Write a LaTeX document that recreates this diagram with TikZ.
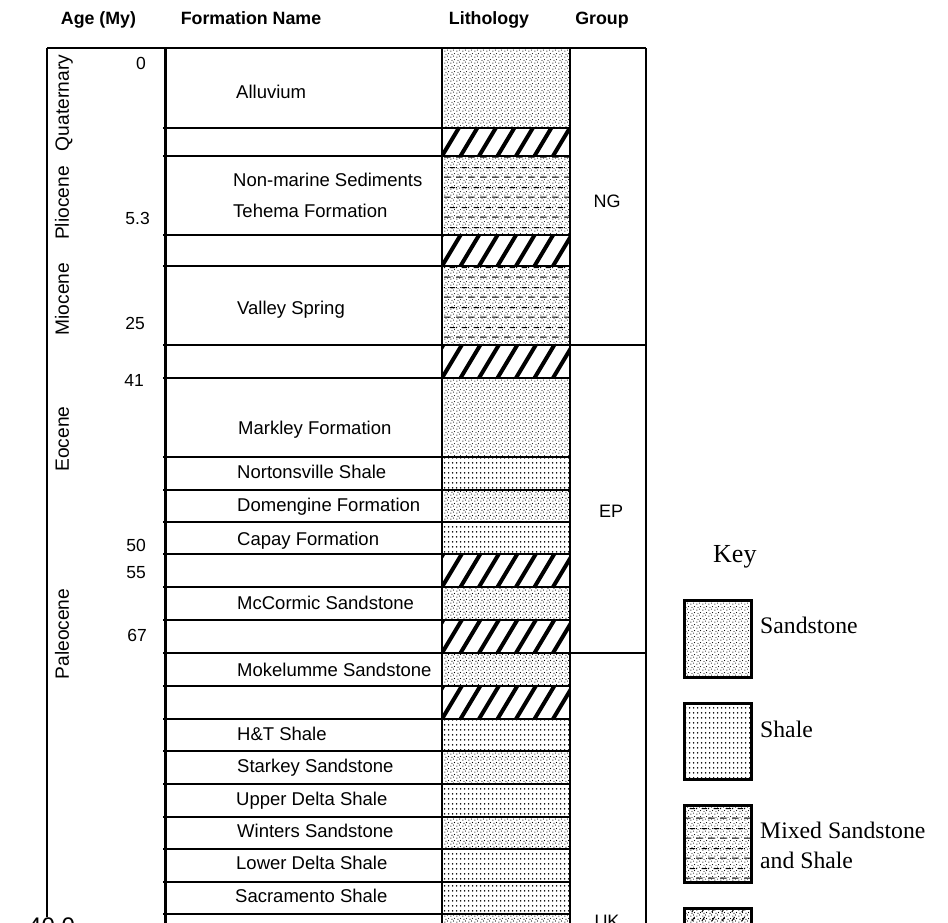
\documentclass[tikz,border=0pt]{standalone}
\usepackage{fontspec}
\setmainfont{Liberation Serif}
\setsansfont{Liberation Sans}
\usetikzlibrary{patterns}

\pgfdeclarepatternformonly{sand}{\pgfqpoint{0pt}{0pt}}{\pgfqpoint{6pt}{6pt}}{\pgfqpoint{6pt}{6pt}}{%
  \pgfpathcircle{\pgfqpoint{1pt}{1pt}}{0.65pt}%
  \pgfpathcircle{\pgfqpoint{4pt}{2.2pt}}{0.65pt}%
  \pgfpathcircle{\pgfqpoint{2.3pt}{4.2pt}}{0.65pt}%
  \pgfpathcircle{\pgfqpoint{5.2pt}{5.1pt}}{0.65pt}%
  \pgfusepath{fill}}
\pgfdeclarepatternformonly{shale}{\pgfqpoint{0pt}{0pt}}{\pgfqpoint{3.6pt}{4.6pt}}{\pgfqpoint{3.6pt}{4.6pt}}{%
  \pgfpathcircle{\pgfqpoint{1.8pt}{2.3pt}}{0.85pt}%
  \pgfusepath{fill}}
\pgfdeclarepatternformonly{mixdash}{\pgfqpoint{0pt}{0pt}}{\pgfqpoint{12pt}{20pt}}{\pgfqpoint{12pt}{20pt}}{%
  \pgfsetlinewidth{1.1pt}%
  \pgfpathmoveto{\pgfqpoint{0pt}{5pt}}\pgfpathlineto{\pgfqpoint{7pt}{5pt}}%
  \pgfpathmoveto{\pgfqpoint{6pt}{15pt}}\pgfpathlineto{\pgfqpoint{12pt}{15pt}}%
  \pgfpathmoveto{\pgfqpoint{0pt}{15pt}}\pgfpathlineto{\pgfqpoint{1pt}{15pt}}%
  \pgfusepath{stroke}}
\pgfdeclarepatternformonly{slashes}{\pgfqpoint{0pt}{0pt}}{\pgfqpoint{10pt}{9pt}}{\pgfqpoint{10pt}{9pt}}{%
  \pgfsetlinewidth{1pt}%
  \pgfpathmoveto{\pgfqpoint{2pt}{2pt}}\pgfpathlineto{\pgfqpoint{5pt}{6.5pt}}%
  \pgfusepath{stroke}}

\newcommand\sandcell[2]{%
  \path[pattern=sand] (442,#1) rectangle (570,#2);
  \draw[cellline] (442,#1) rectangle (570,#2);}
\newcommand\shalecell[2]{%
  \path[pattern=shale] (442,#1) rectangle (570,#2);
  \draw[cellline] (442,#1) rectangle (570,#2);}
\newcommand\mixcell[2]{%
  \path[pattern=sand] (442,#1) rectangle (570,#2);
  \path[pattern=mixdash] (442,#1) rectangle (570,#2);
  \draw[cellline] (442,#1) rectangle (570,#2);}
\newcommand\hatchcell[2]{%
  \begin{scope}
    \clip (442,#1) rectangle (570,#2);
    \foreach \i in {-2,...,8}
      \draw[line width=4pt] ({442+\i*18.5},#2) -- ({442+\i*18.5+0.6*(#2-#1)},#1);
  \end{scope}
  \draw[line width=2.2pt] (442,#1) rectangle (570,#2);}

\begin{document}
\begin{tikzpicture}[x=1pt,y=-1pt,
  header/.style={font=\sffamily\bfseries\fontsize{17.8}{20}\selectfont, inner sep=0pt, text height=12.8pt, text depth=0pt},
  form/.style={anchor=west, font=\sffamily\fontsize{18.5}{20}\selectfont, inner sep=0pt, text height=13.2pt, text depth=0pt},
  agenum/.style={anchor=east, font=\sffamily\fontsize{17.5}{20}\selectfont, inner sep=0pt, text height=12.6pt, text depth=0pt},
  epoch/.style={rotate=90, font=\sffamily\fontsize{19.2}{20}\selectfont, inner sep=0pt, text height=13.8pt, text depth=0pt},
  grp/.style={font=\sffamily\fontsize{18}{20}\selectfont, inner sep=0pt, text height=12.9pt, text depth=0pt},
  keytitle/.style={anchor=west, font=\fontsize{26}{28}\selectfont, inner sep=0pt, text height=17.2pt, text depth=0pt},
  keylabel/.style={anchor=west, font=\fontsize{23.7}{26}\selectfont, inner sep=0pt, text height=15.7pt, text depth=0pt},
  keybox/.style={line width=3pt},
  rowline/.style={line width=1.3pt},
  cellline/.style={line width=1.4pt},
  frame/.style={line width=1.5pt}]
\useasboundingbox (0,0) rectangle (948,922);
\clip (0,0) rectangle (948,922);
\fill[white] (0,0) rectangle (948,922);

% headers
\node[header] (hAge) at (98.5,18) {Age (My)};
\node[header] (hForm) at (251,18) {Formation Name};
\node[header] (hLith) at (489,18) {Lithology};
\node[header] (hGroup) at (602,18) {Group};

% lithology column
\sandcell{48}{128}
\hatchcell{128}{156}
\mixcell{156}{235}
\hatchcell{235}{266}
\mixcell{266}{345}
\hatchcell{345}{378}
\sandcell{378}{457}
\shalecell{457}{490}
\sandcell{490}{522}
\shalecell{522}{554}
\hatchcell{554}{587}
\sandcell{587}{620}
\hatchcell{620}{653}
\sandcell{653}{686}
\hatchcell{686}{719}
\shalecell{719}{751}
\sandcell{751}{784}
\shalecell{784}{817}
\sandcell{817}{849}
\shalecell{849}{882}
\shalecell{882}{914}
\sandcell{914}{960}

% frame lines
\draw[frame] (47,48) -- (646,48);
\draw[frame] (47,48) -- (47,917);
\draw[line width=3pt] (165,47) -- (165,930);
\draw[frame] (646,48) -- (646,930);
\draw[frame] (570,345) -- (646,345);
\draw[frame] (570,653) -- (646,653);
\foreach \y in {128,156,235,266,345,378,457,490,522,554,587,620,653,686,719,751,784,817,849,882,914}
  \draw[rowline] (163,\y) -- (442,\y);

% epochs
\node[epoch] (eQ) at (62,103) {Quaternary};
\node[epoch] (eP) at (62,203) {Pliocene};
\node[epoch] (eM) at (62,299) {Miocene};
\node[epoch] (eE) at (62,439) {Eocene};
\node[epoch] (ePa) at (62,634) {Paleocene};

% ages
\node[agenum] (a0) at (146,63) {0};
\node[agenum] (a53) at (150,218) {5.3};
\node[agenum] (a25) at (145,323) {25};
\node[agenum] (a41) at (144,380) {41};
\node[agenum] (a50) at (146,545) {50};
\node[agenum] (a55) at (146,572) {55};
\node[agenum] (a67) at (147,635) {67};
\node[anchor=base west, inner sep=0pt, font=\sffamily\fontsize{24}{26}\selectfont] (a40) at (28,934) {40.0};

% formations
\node[form] (f1) at (236,92) {Alluvium};
\node[form] (f2) at (233,180) {Non-marine Sediments};
\node[form] (f3) at (233,211) {Tehema Formation};
\node[form] (f4) at (237,308) {Valley Spring};
\node[form] (f5) at (238,428) {Markley Formation};
\node[form] (f6) at (237,472) {Nortonsville Shale};
\node[form] (f7) at (237,505) {Domengine Formation};
\node[form] (f8) at (237,539) {Capay Formation};
\node[form] (f9) at (237,603) {McCormic Sandstone};
\node[form] (f10) at (237,670) {Mokelumme Sandstone};
\node[form] (f11) at (237,734) {H\&T Shale};
\node[form] (f12) at (237,766) {Starkey Sandstone};
\node[form] (f13) at (236,799) {Upper Delta Shale};
\node[form] (f14) at (237,831) {Winters Sandstone};
\node[form] (f15) at (236,863) {Lower Delta Shale};
\node[form] (f16) at (235,896) {Sacramento Shale};

% groups
\node[grp] (gNG) at (607,201) {NG};
\node[grp] (gEP) at (611,511) {EP};
\node[grp] (gUK) at (607,921) {UK};

% key
\node[keytitle] (key) at (713,553.5) {Key};
\path[pattern=sand] (684,600) rectangle (751,677);
\draw[keybox] (684,600) rectangle (751,677);
\node[keylabel] (kSand) at (760,625.5) {Sandstone};
\path[pattern=shale] (684,703) rectangle (751,779);
\draw[keybox] (684,703) rectangle (751,779);
\node[keylabel] (kShale) at (760,729.5) {Shale};
\path[pattern=sand] (684,805) rectangle (751,882);
\path[pattern=mixdash] (684,805) rectangle (751,882);
\draw[keybox] (684,805) rectangle (751,882);
\node[keylabel] (kMix1) at (760,830.5) {Mixed Sandstone};
\node[keylabel] (kMix2) at (760,860.5) {and Shale};
\path[pattern=sand] (684,908) rectangle (751,985);
\path[pattern=slashes] (684,908) rectangle (751,985);
\draw[keybox] (684,908) rectangle (751,985);
\end{tikzpicture}
\end{document}
